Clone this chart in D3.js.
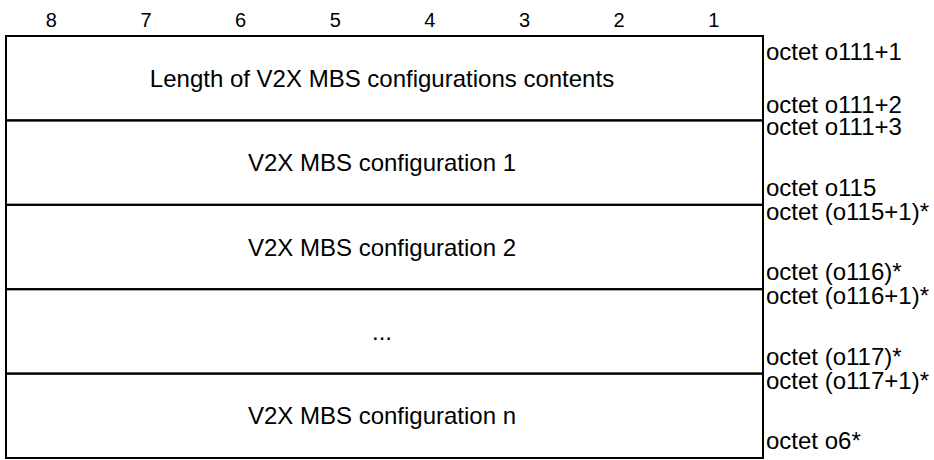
<!DOCTYPE html>
<html><head><meta charset="utf-8">
<script src="https://cdn.jsdelivr.net/npm/d3@7"></script>
<style>body{margin:0;background:#fff}svg{display:block}text{font-family:Arial,"Liberation Sans",sans-serif;fill:#000}</style>
</head><body>
<script>
const bits = ["8","7","6","5","4","3","2","1"];
const fields = ["Length of V2X MBS configurations contents","V2X MBS configuration 1","V2X MBS configuration 2","...","V2X MBS configuration n"];
const startOctets = ["octet o111+1","octet o111+3","octet (o115+1)*","octet (o116+1)*","octet (o117+1)*"];
const endOctets = ["octet o111+2","octet o115","octet (o116)*","octet (o117)*","octet o6*"];

const W = 934, H = 460;
const svg = d3.select("body").append("svg").attr("width", W).attr("height", H);
const x = d3.scaleBand().domain(bits).range([6, 763]);
const y = d3.scaleBand().domain(d3.range(fields.length)).range([36, 458]);

svg.append("g").selectAll("text").data(bits).join("text")
  .attr("x", d => x(d) + x.bandwidth()/2 - 2).attr("y", 27)
  .attr("text-anchor","middle").attr("font-size", 20).text(d => d);

const rows = svg.append("g").selectAll("g").data(fields).join("g");
rows.append("rect")
  .attr("x", x.range()[0]).attr("y", (d,i) => y(i))
  .attr("width", x.range()[1]-x.range()[0]).attr("height", y.bandwidth())
  .attr("fill","none").attr("stroke","#000").attr("stroke-width",2);
rows.append("text")
  .attr("x", 382).attr("y", (d,i) => y(i) + y.bandwidth()/2 + 8.5)
  .attr("text-anchor","middle").attr("font-size", 24).text(d => d);
rows.append("text")
  .attr("x", 766).attr("y", (d,i) => y(i) + (i===0 ? 24 : 15))
  .attr("font-size", 24).text((d,i) => startOctets[i]);
rows.append("text")
  .attr("x", 766).attr("y", (d,i) => y(i) + y.bandwidth() - (i===0 ? 7 : 9))
  .attr("font-size", 24).text((d,i) => endOctets[i]);
</script>
</body></html>
